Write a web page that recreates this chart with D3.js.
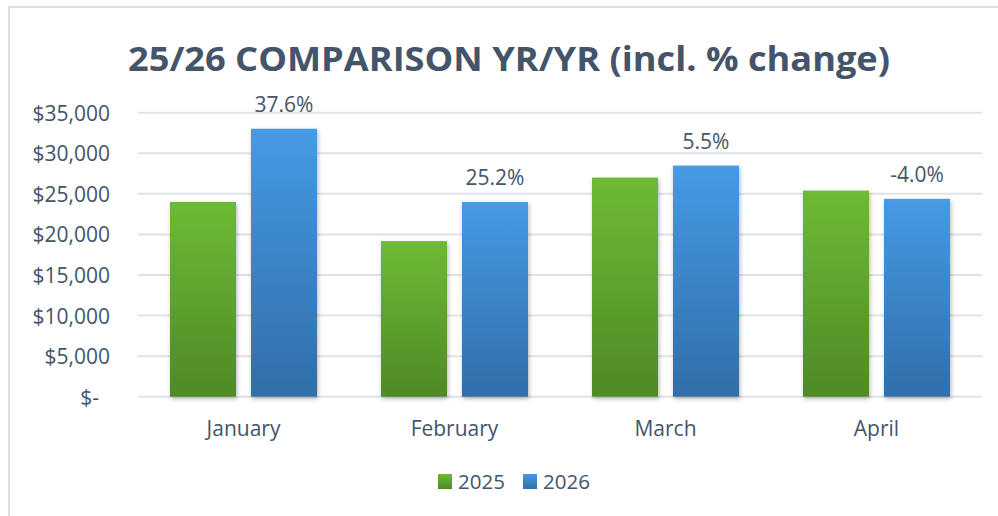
<!DOCTYPE html>
<html>
<head>
<meta charset="utf-8">
<script src="https://cdn.jsdelivr.net/npm/d3@7"></script>
<style>
  html, body { margin: 0; padding: 0; background: #fff; }
  svg { display: block; font-family: "Open Sans", sans-serif; }
</style>
</head>
<body>
<svg id="chart" width="998" height="516"></svg>
<script>
// chart values
var months = ["January", "February", "March", "April"];
var seriesNames = ["2025", "2026"];
var sales2025 = [24000, 19170, 27000, 25400];
var sales2026 = [33020, 24000, 28480, 24380];
var pctLabels = ["37.6%", "25.2%", "5.5%", "-4.0%"];
var yTicks = [0, 5000, 10000, 15000, 20000, 25000, 30000, 35000];

var textCol = "#44546A";
var gridCol = "#DFE2E6";

var svg = d3.select("#chart");

// ###########################################
// gradients + shadow
var defs = svg.append("defs");
var grads = [
  {id: "g2025", top: "#6DBA34", bot: "#4E8A27"},
  {id: "g2026", top: "#469AE4", bot: "#306EA9"}
];
grads.forEach(g => {
  var lg = defs.append("linearGradient").attr("id", g.id)
    .attr("x1", 0).attr("y1", 0).attr("x2", 0).attr("y2", 1);
  lg.append("stop").attr("offset", "0%").attr("stop-color", g.top);
  lg.append("stop").attr("offset", "100%").attr("stop-color", g.bot);
});
defs.append("filter").attr("id", "shadow")
  .attr("x", "-20%").attr("y", "-10%").attr("width", "140%").attr("height", "120%")
  .append("feDropShadow")
    .attr("dx", 1).attr("dy", 2).attr("stdDeviation", 2)
    .attr("flood-color", "#000").attr("flood-opacity", 0.3);

// chart border
svg.append("rect")
  .attr("x", 9).attr("y", 7).attr("width", 1010).attr("height", 530)
  .attr("fill", "none").attr("stroke", "#DCDFE3").attr("stroke-width", 2);

// title
svg.append("text")
  .attr("x", 509).attr("y", 71)
  .attr("text-anchor", "middle")
  .attr("textLength", 762).attr("lengthAdjust", "spacingAndGlyphs")
  .style("font-size", "34px").style("font-weight", "bold")
  .attr("fill", textCol)
  .text("25/26 COMPARISON YR/YR (incl. % change)");

// ###########################################
// scales
var xScale = d3.scaleBand()
  .domain(months)
  .range([138, 982])
  .paddingInner(0).paddingOuter(0);

var xInner = d3.scaleBand()
  .domain(seriesNames)
  .range([0, xScale.bandwidth()])
  .paddingInner(15 / 81)
  .paddingOuter(0.395);

var yScale = d3.scaleLinear()
  .domain([0, 35000])
  .range([396.7, 112.7]);

// gridlines
svg.append("g")
  .selectAll("line.grid")
  .data(yTicks)
  .join("line")
    .attr("class", "grid")
    .attr("x1", 138).attr("x2", 982)
    .attr("y1", d => yScale(d)).attr("y2", d => yScale(d))
    .attr("stroke", gridCol).attr("stroke-width", 2);

// y axis labels
var yAxis = svg.append("g")
  .attr("transform", "translate(110,0)")
  .call(d3.axisLeft(yScale).tickValues(yTicks).tickSize(0).tickPadding(0)
    .tickFormat(d => d === 0 ? "$-" : "$" + d3.format(",")(d)));
yAxis.select(".domain").remove();
yAxis.selectAll("text")
  .attr("fill", textCol)
  .style("font-size", "21px")
  .style("font-family", "'Open Sans', sans-serif")
  .attr("dy", "0.36em")
  .attr("x", d => d === 0 ? -11 : 0);

// x axis labels
var xAxis = svg.append("g")
  .attr("transform", "translate(0,396.7)")
  .call(d3.axisBottom(xScale).tickSize(0).tickPadding(0));
xAxis.select(".domain").remove();
xAxis.selectAll("text")
  .attr("fill", textCol)
  .style("font-size", "21px")
  .style("font-family", "'Open Sans', sans-serif")
  .attr("y", 39).attr("dy", 0);

// ###########################################
// bars
var barData = [];
months.forEach((m, i) => {
  barData.push({month: m, series: "2025", value: sales2025[i]});
  barData.push({month: m, series: "2026", value: sales2026[i]});
});

svg.append("g")
  .selectAll("rect.bar")
  .data(barData)
  .join("rect")
    .attr("class", "bar")
    .attr("x", d => xScale(d.month) + xInner(d.series))
    .attr("width", xInner.bandwidth())
    .attr("y", d => yScale(d.value))
    .attr("height", d => yScale(0) - yScale(d.value))
    .attr("fill", d => `url(#g${d.series})`)
    .attr("filter", "url(#shadow)");

// % change labels over the 2026 bars
svg.append("g")
  .selectAll("text.pct")
  .data(months)
  .join("text")
    .attr("class", "pct")
    .attr("x", (d, i) => xScale(d) + xInner("2026") + xInner.bandwidth() / 2)
    .attr("y", (d, i) => yScale(sales2026[i]) - 17)
    .attr("text-anchor", "middle")
    .attr("fill", textCol)
    .style("font-size", "21px")
    .text((d, i) => pctLabels[i]);

// ###########################################
// legend
var legendX = [438, 523];
var leg = svg.append("g")
  .selectAll("g.leg")
  .data(seriesNames)
  .join("g")
    .attr("class", "leg")
    .attr("transform", (d, i) => `translate(${legendX[i]},474)`);
leg.append("rect")
  .attr("width", 14).attr("height", 15)
  .attr("fill", d => `url(#g${d})`);
leg.append("text")
  .attr("x", 20).attr("y", 14.5)
  .attr("fill", textCol)
  .style("font-size", "20.5px")
  .text(d => d);
</script>
</body>
</html>
